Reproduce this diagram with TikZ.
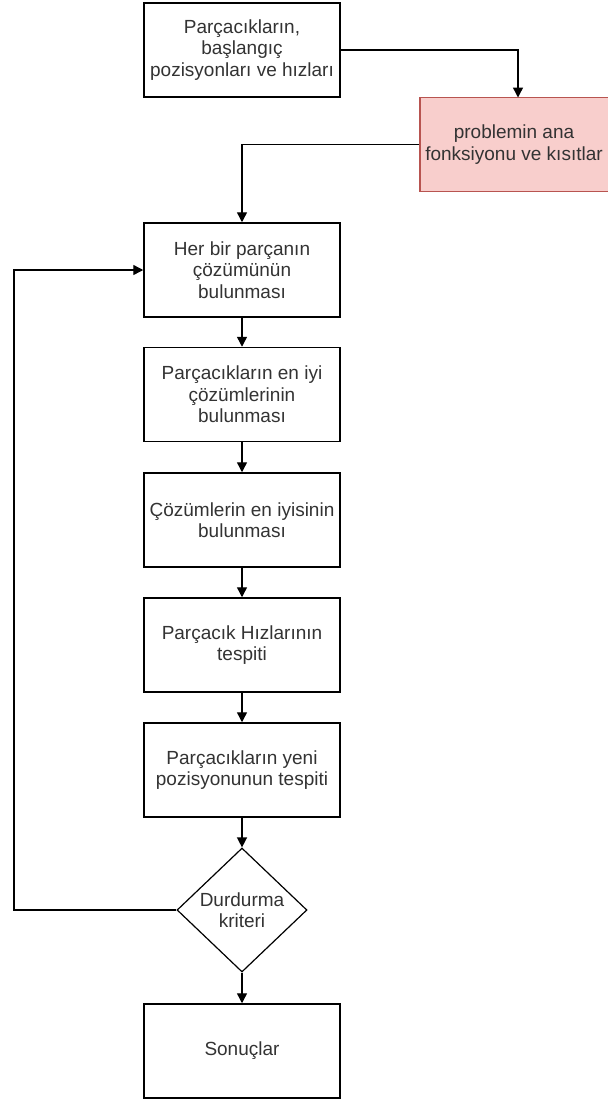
\documentclass[tikz,border=0pt]{standalone}
\usepackage{fontspec}
\setmainfont{Liberation Sans}
\usetikzlibrary{shapes.geometric,arrows.meta}
\definecolor{txt}{HTML}{333333}
\definecolor{pinkfill}{HTML}{F8CECC}
\definecolor{pinkline}{HTML}{B85450}
\begin{document}
\begin{tikzpicture}[x=1pt,y=-1pt,
  lbl/.style={text=txt,align=center,font=\fontsize{19}{21.5}\selectfont},
  box/.style={lbl,draw=black,line width=1.5pt,fill=white,minimum width=196pt,minimum height=94pt,inner sep=1pt},
  pinkbox/.style={box,fill=pinkfill,draw=pinkline},
  decision/.style={lbl,diamond,draw=black,line width=1.2pt,fill=white,minimum width=130pt,minimum height=124pt,inner sep=0pt},
  conn/.style={draw=black,line width=1.4pt,-{Triangle[length=10pt,width=10pt]}}]
\useasboundingbox (0,0) rectangle (608,1101);
\clip (0,0) rectangle (608,1101);
\fill[white] (0,0) rectangle (608,1101);
\node[box] (init) at (242,50) {Parçacıkların,\\başlangıç\\pozisyonları ve hızları};
\node[pinkbox,minimum width=300pt] (prob) at (570,144.5) {};
\node[lbl] (probtxt) at (514,144.5) {problemin ana\\fonksiyonu ve kısıtlar};
\node[box] (b1) at (242,270) {Her bir parçanın\\çözümünün\\bulunması};
\node[box] (b2) at (242,394.5) {Parçacıkların en iyi\\çözümlerinin\\bulunması};
\node[box] (b3) at (242,520) {Çözümlerin en iyisinin\\bulunması};
\node[box] (b4) at (242,645) {Parçacık Hızlarının\\tespiti};
\node[box] (b5) at (242,770) {Parçacıkların yeni\\pozisyonunun tespiti};
\node[decision] (dec) at (242,910) {Durdurma\\kriteri};
\node[box] (res) at (242,1051) {Sonuçlar};
\coordinate (loopx) at (14,0);
\coordinate (probin) at (518,97.5);
\draw[conn] (init.east) -| (probin);
\draw[conn] (prob.west) -| (b1.north);
\draw[conn] (b1) -- (b2);
\draw[conn] (b2) -- (b3);
\draw[conn] (b3) -- (b4);
\draw[conn] (b4) -- (b5);
\draw[conn] (b5) -- (dec);
\draw[conn] (dec) -- (res);
\draw[conn] (dec.west) -| (loopx |- b1.west) -- (b1.west);
\end{tikzpicture}
\end{document}
